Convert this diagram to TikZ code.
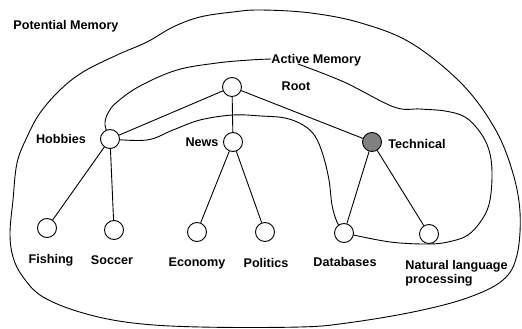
\documentclass[tikz,border=0pt]{standalone}
\usepackage{fontspec}
\setmainfont{Liberation Sans}
\usetikzlibrary{backgrounds}
\begin{document}
\begin{tikzpicture}[x=1pt,y=-1pt,line width=0.9pt,
  nd/.style={circle,draw,fill=white,minimum size=19pt,inner sep=0pt,line width=0.9pt},
  hl/.style={nd,fill=black!50},
  lbl/.style={font=\bfseries\fontsize{12.6}{14}\selectfont,inner sep=0pt,text height=9pt,text depth=0pt},
  mem/.style={line width=0.9pt}]
\useasboundingbox (0,0) rectangle (522,329);
% nodes
\node[nd] (root) at (232,87) {};
\node[nd] (hob) at (110,139) {};
\node[nd] (news) at (233,142) {};
\node[hl] (tech) at (372,142) {};
\node[nd] (fish) at (47,228) {};
\node[nd] (soc) at (114,230) {};
\node[nd] (eco) at (197,232) {};
\node[nd] (pol) at (265,232) {};
\node[nd] (db) at (344,233) {};
\node[nd] (nlp) at (429,234) {};
% labels
\node[lbl,anchor=west] (pm) at (13,25) {Potential Memory};
\node[lbl,anchor=west] (am) at (271,59) {Active Memory};
\node[lbl] (lroot) at (296,86) {Root};
\node[lbl] (lhob) at (61,139) {Hobbies};
\node[lbl] (lnews) at (202,142) {News};
\node[lbl,anchor=west] (ltech) at (388,144) {Technical};
\node[lbl] (lfish) at (51,259) {Fishing};
\node[lbl] (lsoc) at (112,260) {Soccer};
\node[lbl] (leco) at (197,262) {Economy};
\node[lbl] (lpol) at (266,263) {Politics};
\node[lbl] (ldb) at (345,262) {Databases};
\node[lbl,anchor=north west,align=left,text height=,text depth=] (lnlp) at (405,260) {Natural language\\processing};
% edges
\draw (root) -- (hob);
\draw (root) -- (news);
\draw (root) -- (tech);
\draw (hob) -- (fish);
\draw (hob) -- (soc);
\draw (news) -- (eco);
\draw (news) -- (pol);
\draw (tech) -- (db);
\draw (tech) -- (nlp);
% memory boundaries
\begin{scope}[on background layer]
\draw[mem] plot[smooth cycle,tension=0.6] coordinates {(261,10) (311,13) (361,23) (411,43) (461,83) (494,127) (512,170) (520,212) (517,255) (503,280) (467,298) (413,312) (347,323) (300,327) (200,327) (133,323) (83,313) (43,297) (23,277) (13,257) (10,233) (13,200) (17,163) (27,137) (40,113) (60,90) (83,72) (117,55) (147,42) (173,27) (200,17) (233,12)};
\draw[mem] plot[smooth,tension=0.6] coordinates {(hob.center) (105,125) (108,113) (117,102) (140,86) (177,70) (217,63) (250,60) (am.west)};
\draw[mem] plot[smooth,tension=0.6] coordinates {(298,64) (344,82) (394,107) (420,109) (445,111) (465,117) (480,132) (489,150) (492,172) (490,200) (483,218) (468,235) (448,242) (429,244) (400,243) (378,240) (db.center)};
\draw[mem] plot[smooth,tension=0.6] coordinates {(db.center) (337,222) (332,205) (329,180) (323,155) (315,136) (303,125) (285,118) (261,116) (233,115) (200,120) (173,130) (147,140) (hob.center)};
\end{scope}
\end{tikzpicture}
\end{document}
